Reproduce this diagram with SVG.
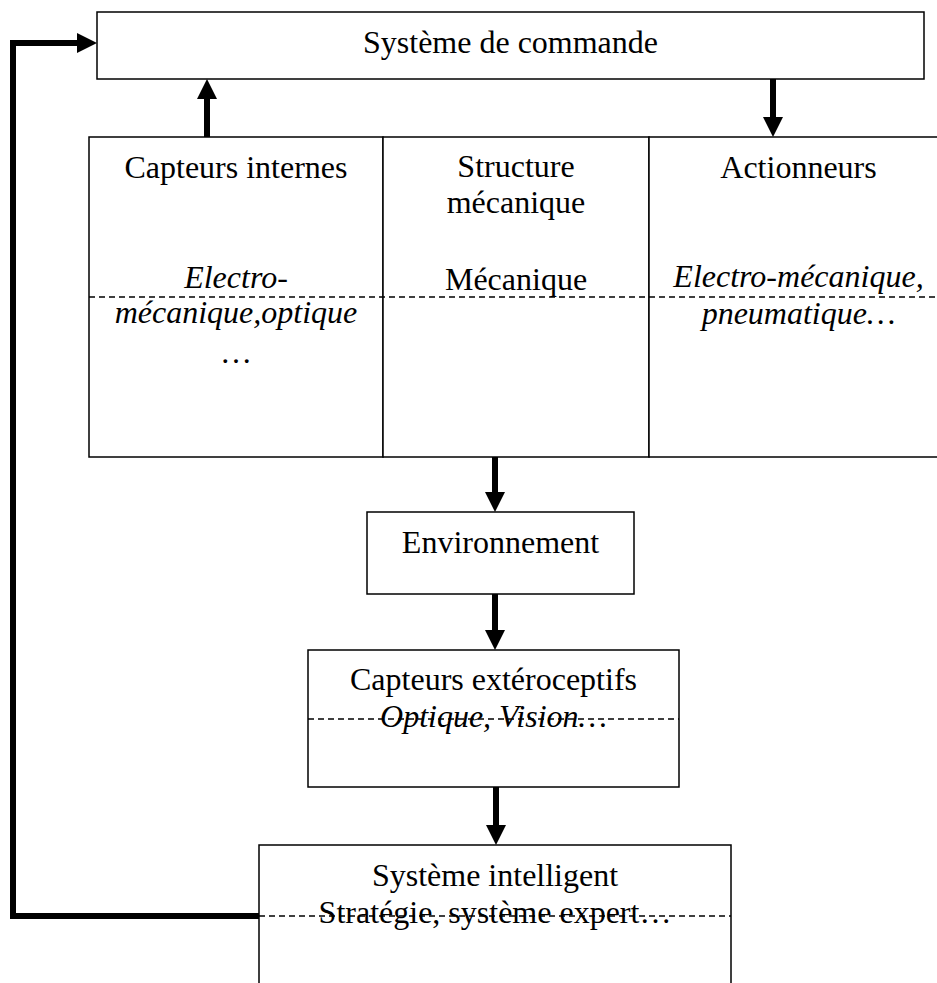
<svg xmlns="http://www.w3.org/2000/svg" width="937" height="983" viewBox="0 0 937 983">
<style>
  .box { fill: #fff; stroke: #000; stroke-width: 1.5; }
  .dash { fill: none; stroke: #000; stroke-width: 1.5; stroke-dasharray: 6 4; }
  .t { font-family: "Liberation Serif", "Times New Roman", serif; font-size: 32px; fill: #000; text-anchor: middle; }
  .i { font-style: italic; }
  .conn { fill: none; stroke: #000; stroke-width: 6; }
</style>
<defs>
  <marker id="ah" markerUnits="userSpaceOnUse" viewBox="0 0 20 20" refX="0" refY="10" markerWidth="20" markerHeight="20" orient="auto">
    <path d="M0,0 L20,10 L0,20 z" fill="#000"/>
  </marker>
</defs>
<rect width="937" height="983" fill="#fff"/>

<g id="commande">
  <rect class="box" x="97" y="12" width="827" height="67"/>
  <text class="t" x="510.5" y="53">Système de commande</text>
</g>

<g id="capteurs-internes">
  <rect class="box" x="89" y="137" width="294" height="320"/>
  <text class="t" x="236" y="178">Capteurs internes</text>
  <text class="t i" x="236" y="288">Electro-</text>
  <text class="t i" x="236" y="323">mécanique,optique</text>
  <text class="t" x="236" y="363">…</text>
</g>

<g id="structure">
  <rect class="box" x="383" y="137" width="266" height="320"/>
  <text class="t" x="516" y="177">Structure</text>
  <text class="t" x="516" y="213">mécanique</text>
  <text class="t" x="516" y="290">Mécanique</text>
</g>

<g id="actionneurs">
  <rect class="box" x="649" y="137" width="299" height="320"/>
  <text class="t" x="798.5" y="178">Actionneurs</text>
  <text class="t i" x="798.5" y="287">Electro-mécanique,</text>
  <text class="t i" x="798.5" y="324">pneumatique…</text>
</g>

<line class="dash" x1="89" y1="297" x2="948" y2="297"/>

<g id="environnement">
  <rect class="box" x="367" y="512" width="267" height="82"/>
  <text class="t" x="500.5" y="553">Environnement</text>
</g>

<g id="capteurs-ext">
  <rect class="box" x="308" y="650" width="371" height="137"/>
  <line class="dash" x1="308" y1="719" x2="679" y2="719"/>
  <text class="t" x="493.5" y="690">Capteurs extéroceptifs</text>
  <text class="t i" x="493.5" y="727">Optique, Vision…</text>
</g>

<g id="systeme-intelligent">
  <rect class="box" x="259" y="845" width="472" height="160"/>
  <line class="dash" x1="259" y1="916" x2="731" y2="916"/>
  <text class="t" x="495" y="886">Système intelligent</text>
  <text class="t" x="495" y="923">Stratégie, système expert…</text>
</g>

<g id="connectors">
  <path class="conn" d="M207,137 L207,99" marker-end="url(#ah)"/>
  <path class="conn" d="M773,79 L773,117" marker-end="url(#ah)"/>
  <path class="conn" d="M495,457 L495,492" marker-end="url(#ah)"/>
  <path class="conn" d="M495,594 L495,630" marker-end="url(#ah)"/>
  <path class="conn" d="M496,787 L496,825" marker-end="url(#ah)"/>
  <path class="conn" d="M259,916 L13,916 L13,43 L77,43" marker-end="url(#ah)"/>
</g>
</svg>
